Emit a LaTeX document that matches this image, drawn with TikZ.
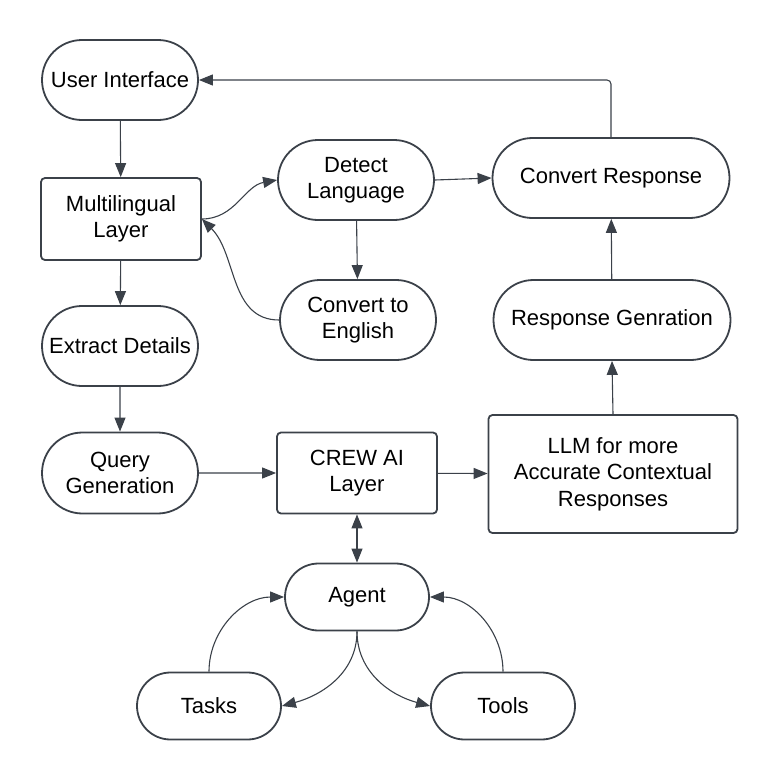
\documentclass[tikz,border=0pt]{standalone}
\usepackage{fontspec}
\setmainfont{Liberation Sans}
\usepackage{xcolor}
\usepackage{tikz}
\usetikzlibrary{positioning,arrows.meta,shapes.misc}
\definecolor{lnclr}{HTML}{3B4149}
\tikzset{
  term/.style  ={draw=lnclr, rounded rectangle, line width=1.8pt, align=center, minimum width=160pt, minimum height=80pt, font=\fontsize{22}{26.5}\selectfont, inner sep=2pt},
  smterm/.style={term, minimum width=148pt, minimum height=67pt},
  blk/.style   ={draw=lnclr, rectangle, rounded corners=4pt, line width=1.8pt, align=center, minimum width=160pt, minimum height=81pt, font=\fontsize{22}{26.5}\selectfont, inner sep=2pt},
  arr/.style   ={-{Triangle[length=14pt,width=11pt]}, draw=lnclr, line width=1.1pt, fill=none},
}

\begin{document}
\begin{tikzpicture}[x=1pt,y=-1pt]
    \useasboundingbox (0,0) rectangle (776,780);
    % left column
    \node[term] (ui) at (120,80) {User Interface};
    \node[blk, minimum height=82pt] (ml) at (121,219) {Multilingual\\Layer};
    \node[term] (ed) at (120,346) {Extract Details};
    \node[term, minimum height=81pt] (qg) at (120,473) {Query\\Generation};
    % middle column
    \node[term] (dl) at (356,180) {Detect\\Language};
    \node[term] (ce) at (358,320) {Convert to\\English};
    \node[blk] (crew) at (357,473) {CREW AI\\Layer};
    \node[smterm] (agent) at (357,597) {Agent};
    \node[smterm] (tasks) at (209,706) {Tasks};
    \node[smterm] (tools) at (503,706) {Tools};
    % right column
    \node[term, minimum width=241pt] (cr) at (611,178) {Convert Response};
    \node[term, minimum width=241pt] (rg) at (612,320) {Response Genration};
    \node[blk, minimum width=249pt, minimum height=118pt] (llm) at (613,474) {LLM for more\\Accurate Contextual\\Responses};

    % connectors
    \draw[arr] (ui) -- (ml);
    \draw[arr] (ml) -- (ed);
    \draw[arr] (ed) -- (qg);
    \draw[arr] (ml.east) to[out=0,in=190] (dl.west);
    \draw[arr] (ce.west) to[out=180,in=-45] (ml.east);
    \draw[arr] (dl) -- (ce);
    \draw[arr] (dl.east) -- (cr.west);
    \draw[arr, rounded corners=4pt] (cr.north) |- (ui.east);
    \draw[arr] (rg) -- (cr);
    \draw[arr] (llm.north) -- (rg.south);
    \draw[arr] (qg) -- (crew);
    \draw[arr] (crew) -- (llm);
    \draw[arr, {Triangle[length=14pt,width=11pt]}-{Triangle[length=14pt,width=11pt]}] (crew) -- (agent);
    \draw[arr] (tasks.north) to[out=90,in=180] (agent.west);
    \draw[arr] (tools.north) to[out=90,in=0] (agent.east);
    \draw[arr] (agent.south) to[out=-90,in=15] (tasks.east);
    \draw[arr] (agent.south) to[out=-90,in=165] (tools.west);
\end{tikzpicture}
\end{document}
